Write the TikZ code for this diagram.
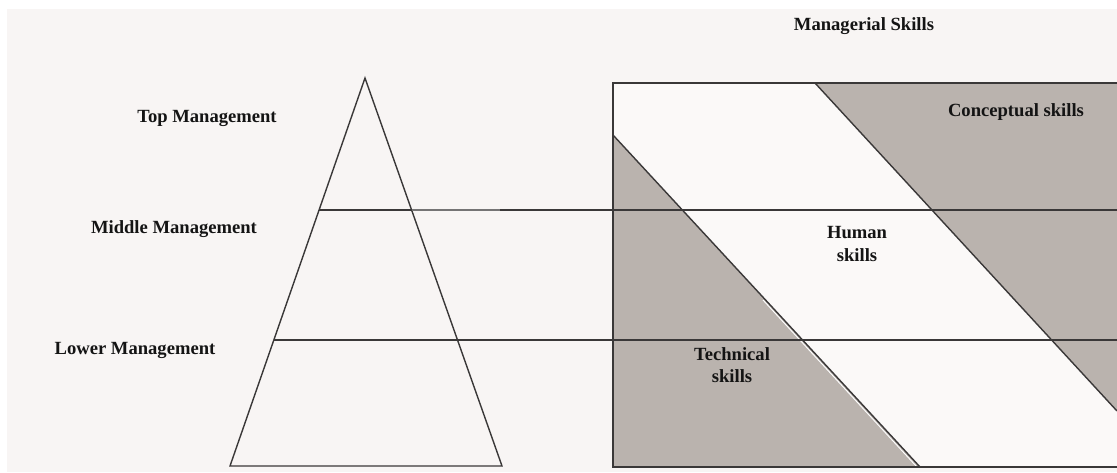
\documentclass[tikz,border=0pt]{standalone}
\usepackage{fontspec}
\setmainfont{Liberation Serif}
\definecolor{bgc}{RGB}{248,245,244}
\definecolor{grayfill}{RGB}{186,179,174}
\definecolor{innerc}{RGB}{251,249,248}
\definecolor{ln}{RGB}{58,56,56}
\begin{document}
\begin{tikzpicture}[x=1pt,y=-1pt,
  lbl/.style={font=\fontsize{18.6}{22.5}\selectfont\bfseries, text=black!92, inner sep=0pt, align=center},
  rule/.style={draw=ln, line width=1.4pt},
  faintrule/.style={draw=ln!70, line width=1.2pt}]
\useasboundingbox (0,0) rectangle (1117,472);
\fill[white] (0,0) rectangle (1117,472);
\fill[bgc] (7,9) rectangle (1117,472);

% coordinates
\coordinate (apex) at (365,78);
\coordinate (bl) at (230,466);
\coordinate (br) at (502,466);
\coordinate (m1l) at (319,210);
\coordinate (m1r) at (412,210);
\coordinate (m1f) at (500,210);
\coordinate (m1e) at (1117,210);
\coordinate (m2l) at (274,340);
\coordinate (m2e) at (1117,340);
\coordinate (btl) at (613,83);
\coordinate (btr) at (1117,83);
\coordinate (bbl) at (613,467);
\coordinate (bbr) at (1117,467);
\coordinate (t1) at (613,135);
\coordinate (t2) at (920,467);
\coordinate (c1) at (815,83);
\coordinate (c2) at (1117,411);

% skills box
\fill[innerc] (btl) rectangle (bbr);
\fill[grayfill] (t1) -- (t2) -- (bbl) -- cycle;
\fill[grayfill] (c1) -- (btr) -- (c2) -- cycle;
\draw[white, line width=0.9pt] (763,300) -- (917,467);
\draw[rule] (t1) -- (t2);
\draw[rule] (c1) -- (c2);
\draw[rule] (btr) -- (btl) -- (bbl) -- (bbr);

% pyramid
\draw[rule] (apex) -- (bl) -- (br) -- cycle;

% level lines
\draw[rule] (m1l) -- (m1r);
\draw[faintrule] (m1r) -- (m1f);
\draw[rule] (m1f) -- (m1e);
\draw[rule] (m2l) -- (m2e);

% labels
\node[lbl] (title) at (864,26) {Managerial Skills};
\node[lbl] (top) at (207,118) {Top Management};
\node[lbl] (mid) at (174,229) {Middle Management};
\node[lbl] (low) at (135,350) {Lower Management};
\node[lbl] (conc) at (1016,112) {Conceptual skills};
\node[lbl] (hum) at (857,244) {Human\\skills};
\node[lbl] (tech) at (732,365) {Technical\\skills};
\end{tikzpicture}
\end{document}
